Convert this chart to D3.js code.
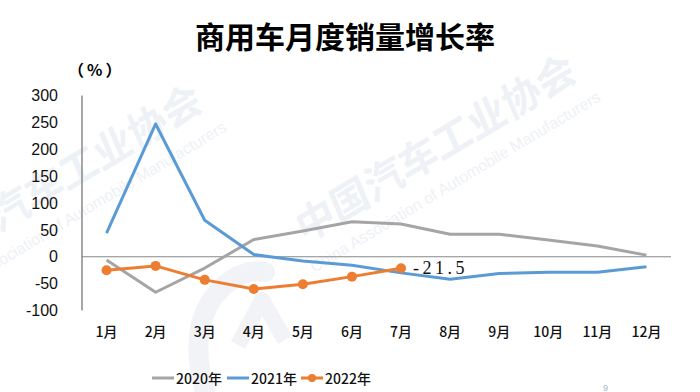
<!DOCTYPE html>
<html><head><meta charset="utf-8">
<script src="https://cdn.jsdelivr.net/npm/d3@7"></script>
<style>body{margin:0;background:#fff}svg{display:block}</style>
</head><body>
<svg id="c" width="700" height="392"></svg>
<script>
const months = ["1月","2月","3月","4月","5月","6月","7月","8月","9月","10月","11月","12月"];
const yTicks = [300,250,200,150,100,50,0,-50,-100];
const s2020 = [-6,-66,-21,32,48,65,61,42,42,31,20,3];
const s2021 = [44,247,68,4,-8,-16,-30,-42,-31,-29,-29,-18.5];
const s2022 = [-25,-17,-43,-60,-51,-37,-21.5];
const seriesNames = ["2020年","2021年","2022年"];
const colors = ["#a5a5a5","#5b9bd5","#ed7d31"];
const lastLabel = "-21.5";

const svg = d3.select("#c");
const x = d3.scaleBand().domain(months).range([82,671]);
const y = d3.scaleLinear().domain([-100,300]).range([310.5,95.5]);
const cx = m => x(m) + x.bandwidth()/2;

// watermark
const wm = svg.append("g").attr("fill","#eef1f6");
[[-70,274],[304,244]].forEach(([tx,ty])=>{
  const g = wm.append("g").attr("transform",`translate(${tx},${ty}) rotate(-31)`);
  g.append("text").attr("font-size",40).attr("font-weight",700).attr("font-family","Noto Sans CJK SC")
    .attr("transform","skewX(-8)").text("中国汽车工业协会");
  g.append("text").attr("x",-6).attr("y",30).attr("font-size",16).attr("font-family","Liberation Sans").text("China Association of Automobile Manufacturers");
});
wm.append("path").attr("fill","none").attr("stroke","#f1f3f7").attr("stroke-width",20).attr("stroke-linecap","round")
  .attr("d","M205,392 Q185,320 225,285 Q245,268 265,272");
wm.append("path").attr("fill","none").attr("stroke","#f1f3f7").attr("stroke-width",16).attr("stroke-linejoin","round")
  .attr("d","M238,345 L262,300 L285,340");

// title
svg.append("text").attr("x",345).attr("y",48).attr("text-anchor","middle")
  .attr("font-family","Noto Sans CJK SC").attr("font-weight",700).attr("font-size",30)
  .text("商用车月度销量增长率");
svg.append("text").attr("x",68).attr("y",76).attr("font-family","Noto Sans CJK SC")
  .attr("font-size",16).attr("font-weight",700).attr("letter-spacing",3).text("（%）");

// y axis
const yAxis = d3.axisLeft(y).tickValues(yTicks).tickSize(0).tickPadding(0).tickFormat(d=>d);
const ya = svg.append("g").attr("transform","translate(58,0)").call(yAxis);
ya.select(".domain").remove();
ya.selectAll("text").attr("font-family","Liberation Sans").attr("font-size",16).attr("fill","#111");
svg.append("line").attr("x1",82).attr("x2",82).attr("y1",y(300)).attr("y2",y(-100)).attr("stroke","#888").attr("stroke-width",1.5);

// x axis labels
const xAxis = d3.axisBottom(x).tickSize(0).tickPadding(0);
const xa = svg.append("g").attr("transform","translate(0,334)").call(xAxis);
xa.select(".domain").remove();
xa.selectAll("text").attr("font-family","Noto Sans CJK SC").attr("font-size",14).attr("font-weight",500).attr("fill","#111").attr("dy","0.2em");

// zero line
svg.append("line").attr("x1",82).attr("x2",671).attr("y1",y(0)).attr("y2",y(0)).attr("stroke","#888").attr("stroke-width",1.2);

const line = d3.line().x((d,i)=>cx(months[i])).y(d=>y(d));
[s2020,s2021,s2022].forEach((s,k)=>{
  svg.append("path").datum(s).attr("d",line).attr("fill","none").attr("stroke",colors[k]).attr("stroke-width",3).attr("stroke-linejoin","round");
});
svg.append("g").selectAll("circle").data(s2022).join("circle")
  .attr("cx",(d,i)=>cx(months[i])).attr("cy",d=>y(d)).attr("r",5).attr("fill",colors[2]);

// data label
const li = s2022.length-1;
svg.append("text").attr("x",cx(months[li])+12).attr("y",y(s2022[li])+6)
  .attr("font-family","Liberation Serif").attr("font-size",18).attr("letter-spacing",3.5).attr("fill","#111").text(lastLabel);

// legend
const legX = [152,227,301];
seriesNames.forEach((n,k)=>{
  const g = svg.append("g").attr("transform",`translate(${legX[k]},378)`);
  g.append("line").attr("x1",0).attr("x2",22).attr("stroke",colors[k]).attr("stroke-width",3);
  if(k===2) g.append("circle").attr("cx",11).attr("r",4).attr("fill",colors[k]);
  g.append("text").attr("x",24).attr("y",5.5).attr("font-family","Noto Sans CJK SC").attr("font-size",14).attr("font-weight",500).attr("fill","#111").text(n);
});
svg.append("text").attr("x",603).attr("y",391).attr("font-family","Liberation Sans").attr("font-size",9).attr("fill","#aab4c4").text("9");
</script>
</body></html>
